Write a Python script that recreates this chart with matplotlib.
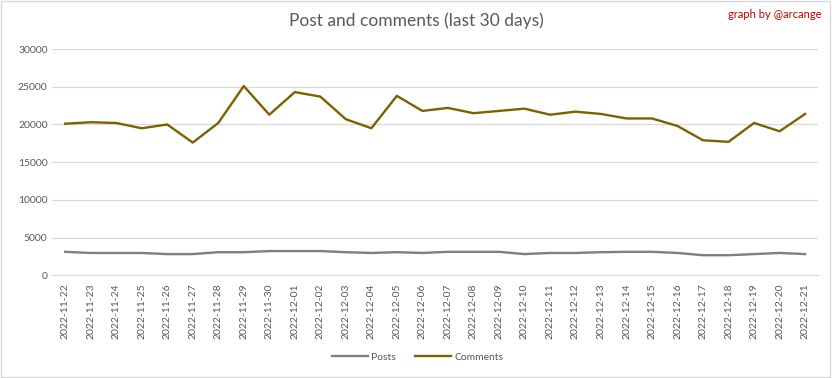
import matplotlib
matplotlib.use("Agg")
import matplotlib.pyplot as plt
import numpy as np

dates = ["2022-11-22", "2022-11-23", "2022-11-24", "2022-11-25", "2022-11-26",
         "2022-11-27", "2022-11-28", "2022-11-29", "2022-11-30", "2022-12-01",
         "2022-12-02", "2022-12-03", "2022-12-04", "2022-12-05", "2022-12-06",
         "2022-12-07", "2022-12-08", "2022-12-09", "2022-12-10", "2022-12-11",
         "2022-12-12", "2022-12-13", "2022-12-14", "2022-12-15", "2022-12-16",
         "2022-12-17", "2022-12-18", "2022-12-19", "2022-12-20", "2022-12-21"]
posts = [3100, 2950, 2950, 2950, 2800, 2800, 3050, 3050, 3200, 3200,
         3200, 3050, 2950, 3050, 2950, 3100, 3100, 3100, 2800, 2950,
         2950, 3050, 3100, 3100, 2950, 2650, 2650, 2800, 2950, 2800]
comments = [20100, 20300, 20200, 19500, 20000, 17600, 20200, 25100, 21300, 24300,
            23700, 20700, 19500, 23800, 21800, 22200, 21500, 21800, 22100, 21300,
            21700, 21400, 20800, 20800, 19800, 17900, 17700, 20200, 19100, 21400]

plt.rcParams['font.family'] = ['Lato', 'DejaVu Sans']
txt = "#595959"

fig = plt.figure(figsize=(8.32, 3.78), dpi=100)
ax = fig.add_axes([0.063, 0.272, 0.920, 0.598])

x = np.arange(len(dates))
ax.plot(x, posts, color="#7f7f7f", lw=1.7, label="Posts")
ax.plot(x, comments, color="#7f6000", lw=1.7, label="Comments")

ax.set_xlim(-0.5, len(dates) - 0.5)
ax.set_ylim(0, 30000)
ax.set_yticks(range(0, 30001, 5000))
ax.set_xticks(x)
ax.set_xticklabels(dates, rotation=90)
ax.tick_params(axis="both", length=0, colors=txt, labelsize=7.5)
ax.tick_params(axis="x", pad=6)
ax.grid(axis="y", color="#d9d9d9", lw=0.9)
ax.set_axisbelow(True)
for s in ["top", "right", "left"]:
    ax.spines[s].set_visible(False)
ax.spines["bottom"].set_color("#d9d9d9")

fig.text(0.5, 0.945, "Post and comments (last 30 days)", ha="center", va="center",
         fontsize=12.5, color=txt)
fig.text(0.987, 0.962, "graph by @arcange", ha="right", va="center",
         fontsize=8, color="#c00000")

fig.legend(loc="center", bbox_to_anchor=(0.502, 0.055), ncol=2, frameon=False,
           fontsize=7.5, labelcolor=txt, handlelength=3.5, columnspacing=1.8,
           handletextpad=0.3)

fig.patches.append(plt.Rectangle((0.001, 0.002), 0.997, 0.995, transform=fig.transFigure,
                                 fill=False, edgecolor="#d9d9d9", lw=1))

fig.savefig("out.png", dpi=100)
